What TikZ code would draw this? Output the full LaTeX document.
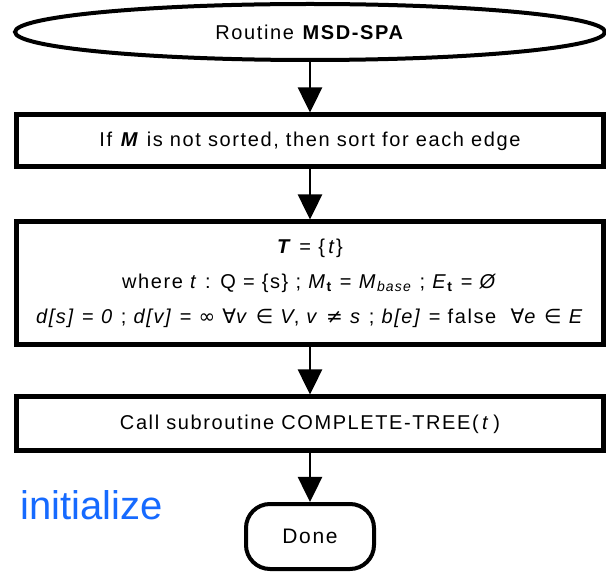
\documentclass[tikz,border=0pt]{standalone}
\usepackage{fontspec}
\setmainfont{Liberation Sans}
\newfontfamily\boxfont{Liberation Sans}[LetterSpace=8]
\newfontfamily\symf{DejaVu Sans}
\usetikzlibrary{arrows.meta,shapes.geometric}
\definecolor{initblue}{RGB}{22,106,255}

\tikzset{
  flowbox/.style={draw, line width=5pt, minimum width=587pt, inner sep=0pt,
    align=center, font=\boxfont\fontsize{20}{35}\selectfont},
  arr/.style={line width=2.5pt, -{Triangle[length=25pt,width=24pt]}},
}

\begin{document}
\begin{tikzpicture}[x=1pt,y=-1pt]
  \useasboundingbox (0,0) rectangle (606,572);

  % start terminal
  \node[draw, ellipse, line width=4pt, minimum width=590pt, minimum height=56pt,
        inner sep=0pt, font=\boxfont\fontsize{20}{24}\selectfont] (start) at (310,32)
        {Routine \textbf{MSD-SPA}};

  % processing steps
  \node[flowbox, minimum height=52pt] (sortbox) at (310,141)
        {If \textbf{\textit{M}} is not sorted, then sort for each edge};

  \node[flowbox, minimum height=123pt] (initbox) at (310,283.5)
        {\textbf{\textit{T}} = \{\,\textit{t}\}\\
         where \textit{t} : Q = \{s\} ; \textit{M}\textsubscript{\textbf{t}} = \textit{M}\textsubscript{\textit{base}} ; \textit{E}\textsubscript{\textbf{t}} = \textit{Ø}\\
         \textit{d[s]} = \textit{0} ; \textit{d[v]} = {\symf ∞} {\symf ∀}\textit{v} {\symf ∈} \textit{V}, \textit{v} {\symf ≠} \textit{s} ; \textit{b[e]} = false \ {\symf ∀}\textit{e} {\symf ∈} \textit{E}};

  \node[flowbox, minimum height=54pt] (callbox) at (310,424)
        {Call subroutine COMPLETE-TREE(\,\textit{t}\,)};

  % end terminal
  \node[draw, line width=4pt, rounded corners=24pt, minimum width=128pt,
        minimum height=65pt, inner sep=0pt, font=\boxfont\fontsize{21}{24}\selectfont]
        (done) at (310,536.5) {Done};

  % label
  \node[anchor=base west, inner sep=0pt, text=initblue,
        font=\fontsize{40}{40}\selectfont] (lbl) at (20,519) {initialize};

  % flow
  \draw[arr] (start.south) -- (sortbox.north);
  \draw[arr] (sortbox.south) -- (initbox.north);
  \draw[arr] (initbox.south) -- (callbox.north);
  \draw[arr] (callbox.south) -- (done.north);
\end{tikzpicture}
\end{document}
